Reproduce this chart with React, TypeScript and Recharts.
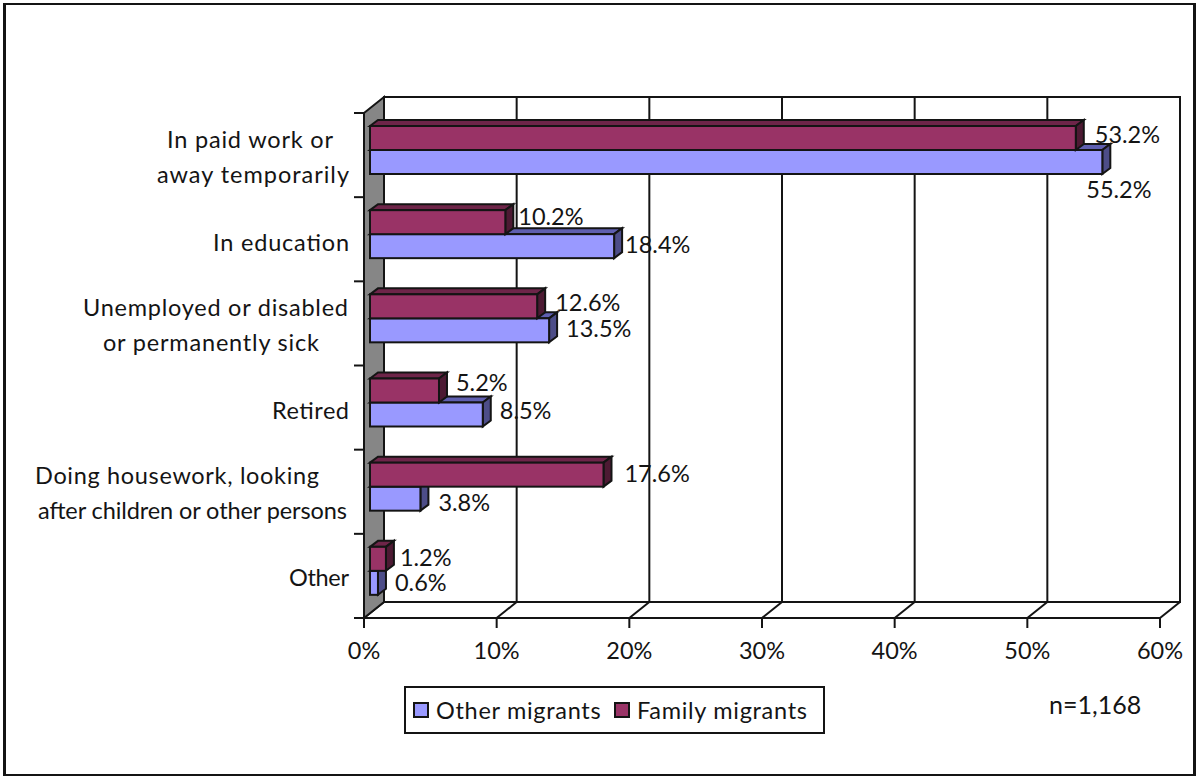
import { Bar, BarChart, CartesianGrid, LabelList, Legend, ReferenceArea, XAxis, YAxis } from 'recharts';

const categories = [
  'In paid work or\naway temporarily',
  'In education',
  'Unemployed or disabled\nor permanently sick',
  'Retired',
  'Doing housework, looking\nafter children or other persons',
  'Other',
];
const otherMigrants = [55.2, 18.4, 13.5, 8.5, 3.8, 0.6];
const familyMigrants = [53.2, 10.2, 12.6, 5.2, 17.6, 1.2];
const percentTicks = [0, 10, 20, 30, 40, 50, 60];

const chartData = categories.map((category, i) => ({
  category,
  other: otherMigrants[i],
  family: familyMigrants[i],
}));

const FONT = 'Lato, "Open Sans", sans-serif';
const FONT_SIZE = 23.5;
const INK = '#141414';
const WIDTH = 1196;
const HEIGHT = 776;
const PLOT = { left: 364, right: 1160, top: 113, bottom: 618 };
const BAND = (PLOT.bottom - PLOT.top) / categories.length;
// oblique offset of the back wall, and of each bar's depth
const WALL_DX = 20;
const WALL_DY = -16;
const BAR_SIZE = 24;
const BAR_DX = 8;
const BAR_DY = -6;

// placement of each wrapped category line: right edge, fitted width, offset from band centre
const lineRight = [[333, 349], [349], [348, 319], [349], [319, 347], [349]];
const lineWidth = [[166, 192], [136], [265, 216], [77], [284, 309], [60]];
const lineY = [[-16, 18.5], [3], [-16, 18.5], [2], [-16.5, 18], [1]];

// label nudges from the end of each bar
const otherLabelNudge = [[-16, 26.5], [11, -2.5], [17, -2.5], [17, -4.5], [18, 3.5], [17, -0.5]];
const familyLabelNudge = [[19, -4.5], [13, -6.5], [18, -4.5], [17, -8.5], [21, -1.5], [14, -1.5]];

const poly = (pts: number[][]) => pts.map((p) => p.join(',')).join(' ');

const makeBox = (face: string, top: string, side: string, slotShift: number) => (props: any) => {
  const { x, y, width } = props;
  const l = x + 6;
  const r = l + width;
  const t = y + slotShift - 5;
  const b = t + BAR_SIZE;
  const common = { stroke: INK, strokeWidth: 2, strokeLinejoin: 'miter' as const };
  return (
    <g>
      <polygon {...common} fill={top} points={poly([[l, t], [l + BAR_DX, t + BAR_DY], [r + BAR_DX, t + BAR_DY], [r, t]])} />
      <polygon {...common} fill={side} points={poly([[r, t], [r + BAR_DX, t + BAR_DY], [r + BAR_DX, b + BAR_DY], [r, b]])} />
      <rect {...common} fill={face} x={l} y={t} width={width} height={BAR_SIZE} />
    </g>
  );
};

const makeValueLabel = (nudges: number[][], slotShift: number) => (props: any) => {
  const box = props.viewBox ?? props;
  const [dx, dy] = nudges[props.index];
  return (
    <text
      x={box.x + 6 + box.width + dx}
      y={box.y + slotShift - 5 + BAR_SIZE / 2 + dy}
      fontFamily={FONT}
      fontSize={FONT_SIZE}
      fill={INK}
      dominantBaseline="central"
    >
      {`${props.value}%`}
    </text>
  );
};

const CategoryTick = ({ y, payload, index }: any) => {
  const lines = String(payload.value).split('\n');
  return (
    <g>
      <line x1={PLOT.left - 10} x2={PLOT.left} y1={y - BAND / 2} y2={y - BAND / 2} stroke={INK} strokeWidth={2} />
      {index === categories.length - 1 && (
        <line x1={PLOT.left - 10} x2={PLOT.left} y1={y + BAND / 2} y2={y + BAND / 2} stroke={INK} strokeWidth={2} />
      )}
      {lines.map((line, i) => (
        <text
          key={line}
          x={lineRight[index][i]}
          y={y + lineY[index][i]}
          textAnchor="end"
          dominantBaseline="central"
          fontFamily={FONT}
          fontSize={FONT_SIZE}
          fill={INK}
          textLength={lineWidth[index][i]}
          lengthAdjust="spacing"
        >
          {line}
        </text>
      ))}
    </g>
  );
};

// back wall gridline plus its diagonal across the floor
const GridLine = ({ x1, y1, y2 }: any) => (
  <g stroke={INK} strokeWidth={2}>
    <line x1={x1 + WALL_DX} x2={x1 + WALL_DX} y1={y1 + WALL_DY} y2={y2 + WALL_DY} />
    <line x1={x1} x2={x1 + WALL_DX} y1={y2} y2={y2 + WALL_DY} />
  </g>
);

const Walls = ({ x, y, width, height }: any) => (
  <g>
    <polygon
      fill="#868686"
      stroke={INK}
      strokeWidth={2}
      points={poly([[x, y], [x + WALL_DX, y + WALL_DY], [x + WALL_DX, y + height + WALL_DY], [x, y + height]])}
    />
    <rect x={x + WALL_DX} y={y + WALL_DY} width={width} height={height} fill="none" stroke={INK} strokeWidth={2} />
  </g>
);

const LegendBox = ({ payload }: any) => (
  <div
    style={{
      boxSizing: 'border-box',
      width: 421,
      height: 48,
      border: `2px solid ${INK}`,
      background: '#fff',
      display: 'flex',
      alignItems: 'center',
      paddingLeft: 7,
      fontFamily: FONT,
      fontSize: FONT_SIZE,
      color: INK,
      letterSpacing: 0.7,
      whiteSpace: 'nowrap',
    }}
  >
    {/* the chart hands vertical-layout series over bottom first */}
    {[...payload].reverse().map((item: any) => (
      <span key={item.value} style={{ display: 'flex', alignItems: 'center', width: 201 }}>
        <span
          style={{
            boxSizing: 'border-box',
            width: 16,
            height: 16,
            border: `2px solid ${INK}`,
            background: item.color,
            marginRight: 7,
          }}
        />
        {item.value}
      </span>
    ))}
  </div>
);

export default function App() {
  return (
    <div style={{ position: 'absolute', left: 0, top: 0, width: WIDTH, height: HEIGHT, background: '#fff', overflow: 'hidden' }}>
      <div
        style={{
          position: 'absolute',
          left: 3,
          top: 3,
          width: WIDTH - 3,
          height: HEIGHT - 3,
          boxSizing: 'border-box',
          borderStyle: 'solid',
          borderColor: INK,
          borderWidth: '2px 3px',
        }}
      />
      <BarChart
        width={WIDTH}
        height={HEIGHT}
        data={chartData}
        layout="vertical"
        barSize={BAR_SIZE}
        barGap={0}
        margin={{ top: PLOT.top, right: WIDTH - PLOT.right, bottom: 0, left: 0 }}
        style={{ position: 'absolute', left: 0, top: 0 }}
      >
        <ReferenceArea x1={0} x2={60} fill="none" stroke="none" ifOverflow="visible" shape={Walls} />
        <CartesianGrid horizontal={false} vertical={GridLine} />
        <XAxis
          type="number"
          domain={[0, 60]}
          ticks={percentTicks}
          tickFormatter={(v) => `${v}%`}
          height={HEIGHT - PLOT.bottom}
          tickSize={10}
          tickMargin={14}
          interval={0}
          axisLine={{ stroke: INK, strokeWidth: 2 }}
          tickLine={{ stroke: INK, strokeWidth: 2 }}
          tick={{ fontFamily: FONT, fontSize: FONT_SIZE, fill: INK }}
        />
        <YAxis
          type="category"
          dataKey="category"
          width={PLOT.left}
          interval={0}
          axisLine={{ stroke: INK, strokeWidth: 2 }}
          tickLine={false}
          tick={CategoryTick}
        />
        <Legend
          layout="horizontal"
          verticalAlign="middle"
          align="center"
          content={LegendBox}
          wrapperStyle={{ position: 'absolute', left: 404, top: 686, width: 421, height: 48, bottom: 'auto' }}
        />
        <Bar
          dataKey="other"
          name="Other migrants"
          fill="#9999ff"
          isAnimationActive={false}
          shape={makeBox('#9999ff', '#5f5fb0', '#4d4d88', BAR_SIZE)}
        >
          <LabelList dataKey="other" content={makeValueLabel(otherLabelNudge, BAR_SIZE)} />
        </Bar>
        <Bar
          dataKey="family"
          name="Family migrants"
          fill="#993366"
          isAnimationActive={false}
          shape={makeBox('#993366', '#6e2549', '#4d1a33', -BAR_SIZE)}
        >
          <LabelList dataKey="family" content={makeValueLabel(familyLabelNudge, -BAR_SIZE)} />
        </Bar>
      </BarChart>
      <div
        style={{
          position: 'absolute',
          left: 1049,
          top: 689,
          fontFamily: FONT,
          fontSize: 25,
          color: INK,
        }}
      >
        n=1,168
      </div>
    </div>
  );
}
